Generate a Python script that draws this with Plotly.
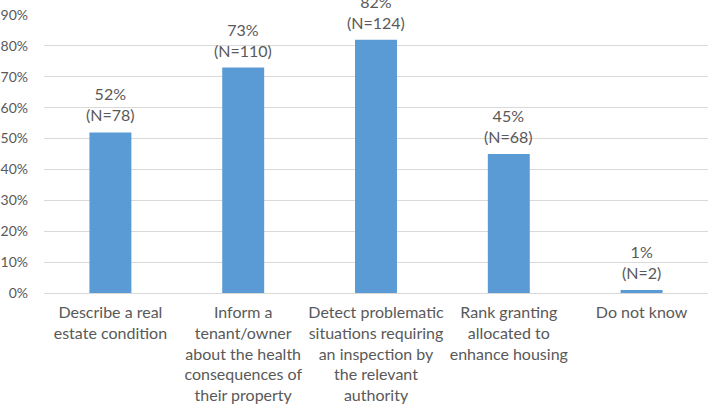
import plotly.graph_objects as go

# data
categories = [
    "Describe a real<br>estate condition",
    "Inform a<br>tenant/owner<br>about the health<br>consequences of<br>their property",
    "Detect problematic<br>situations requiring<br>an inspection by<br>the relevant<br>authority",
    "Rank granting<br>allocated to<br>enhance housing",
    "Do not know",
]
shares = [0.52, 0.73, 0.82, 0.45, 0.01]
counts = [78, 110, 124, 68, 2]

FONT = "Lato, 'Open Sans', sans-serif"
GREY = "#595959"

fig = go.Figure()
fig.add_trace(go.Bar(
    x=categories, y=shares,
    marker=dict(color="#5b9bd5", line=dict(width=0)),
    hoverinfo="skip",
))

# value labels above bars
for cat, s, n in zip(categories, shares, counts):
    fig.add_annotation(
        x=cat, y=s, text=f"{round(s * 100)}%<br>(N={n})",
        showarrow=False, yanchor="bottom", yshift=6,
        font=dict(family=FONT, size=16, color=GREY),
    )

fig.update_layout(
    width=708, height=404,
    margin=dict(l=44, r=0, t=15, b=111, autoexpand=False),
    plot_bgcolor="white", paper_bgcolor="white",
    bargap=0.684, showlegend=False,
    font=dict(family=FONT, size=16, color=GREY),
)
fig.update_xaxes(
    automargin=False,
    showgrid=False, showline=False, ticks="",
    ticklabelstandoff=8,
    tickfont=dict(family=FONT, size=16, color=GREY),
)
fig.update_yaxes(
    automargin=False,
    range=[0, 0.9], dtick=0.1, tickformat=".0%",
    showgrid=True, gridcolor="#d9d9d9", gridwidth=1.3,
    zeroline=True, zerolinecolor="#d9d9d9", zerolinewidth=1.3,
    showline=False, ticks="", ticklabelstandoff=15,
    tickfont=dict(family=FONT, size=14, color=GREY),
)

# page body has a default 8px margin; drop it so the figure sits at the corner
fig.write_html("out.html", config={"displayModeBar": False},
               post_script="document.body.style.margin='0';")
